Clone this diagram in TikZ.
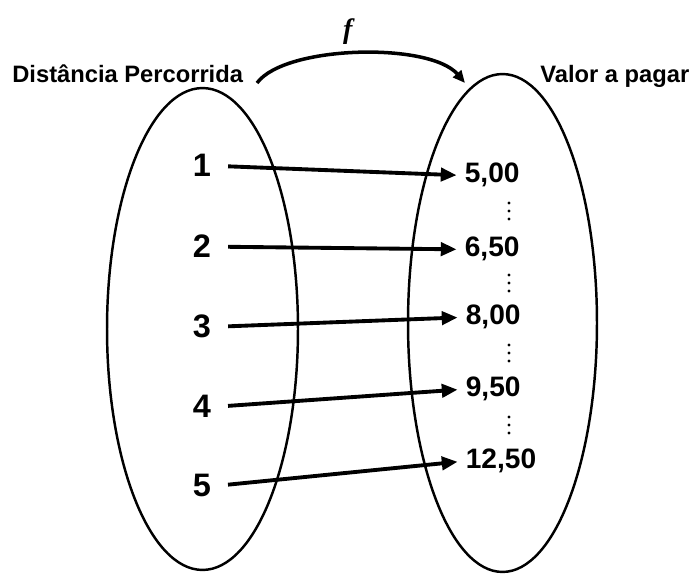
\documentclass[tikz,border=0pt]{standalone}
\usepackage{fontspec}
\setmainfont{Liberation Sans}
\newfontfamily\fnserif{Liberation Serif}
\usepackage{tikz}
\usetikzlibrary{
  arrows.meta,
  positioning,
  shapes.geometric
}
\tikzset{
  setshape/.style={
    ellipse,
    draw,
    line width=1.4pt,
    inner sep=0pt
  },
  setlabel/.style={
    anchor=base west,
    inner sep=0pt,
    font=\bfseries\fontsize{13.5}{16}\selectfont
  },
  element/.style={
    anchor=base,
    inner sep=2pt,
    font=\bfseries\fontsize{18.5}{22}\selectfont
  },
  valuebox/.style={
    anchor=base west,
    inner sep=2pt,
    font=\bfseries\fontsize{16}{19}\selectfont
  },
  gapmark/.style={
    inner sep=0pt,
    minimum size=0pt
  },
  mapping/.style={
    -{Triangle[length=9pt,width=7.5pt]},
    line width=2.2pt,
    shorten <=7.5pt,
    shorten >=2.5pt
  },
  function/.style={
    -{Triangle[length=7pt,width=6pt]},
    line width=2pt
  }
}

\begin{document}
\begin{tikzpicture}[x=0.02cm, y=-0.02cm]

  \useasboundingbox (0,0) rectangle (694,574);

  % the two sets
  \node[setshape, minimum width=3.82cm, minimum height=9.64cm] (domain) at (202.5,329) {};
  \node[setshape, minimum width=3.78cm, minimum height=9.96cm] (codomain) at (502.5,323) {};

  \node[setlabel] (domainlabel) at (12,83) {Distância Percorrida};
  \node[setlabel] (codomainlabel) at (540,83) {Valor a pagar};

  % function arrow
  \coordinate (fstart) at (257,83);
  \coordinate (fend) at (465,83);
  \draw[function]
  (fstart) .. controls (285,45) and (430,42) ..
  node[
    pos=0.5,
    above=4pt,
    xshift=-6pt,
    inner sep=0pt,
    font=\fnserif\bfseries\itshape\fontsize{16}{18}\selectfont
  ] (fname) {f}
  (fend);

  % elements of the domain
  \node[element] (d1) at (202,177) {1};
  \node[element] (d2) at (202,258) {2};
  \node[element] (d3) at (202,338) {3};
  \node[element] (d4) at (202,418) {4};
  \node[element] (d5) at (202,497) {5};

  % elements of the codomain
  \node[valuebox] (v1) at (461,183) {5,00};
  \node[valuebox] (v2) at (461,257) {6,50};
  \node[valuebox] (v3) at (462,325) {8,00};
  \node[valuebox] (v4) at (462,397) {9,50};
  \node[valuebox] (v5) at (462,469) {12,50};

  % vertical dots between the values
  \node[gapmark] (gap1) at (509,211) {};
  \node[gapmark] (gap2) at (509,283) {};
  \node[gapmark] (gap3) at (509,353) {};
  \node[gapmark] (gap4) at (509,425) {};
  \foreach \g in {gap1,gap2,gap3,gap4} {
    \fill (\g) +(0,-8) circle (0.9pt) +(0,0) circle (0.9pt) +(0,8) circle (0.9pt);
  }

  % mappings
  \draw[mapping] (d1.east) -- (v1.west);
  \draw[mapping] (d2.east) -- (v2.west);
  \draw[mapping] (d3.east) -- (v3.west);
  \draw[mapping] (d4.east) -- (v4.west);
  \draw[mapping] (d5.east) -- (v5.west);

\end{tikzpicture}
\end{document}
